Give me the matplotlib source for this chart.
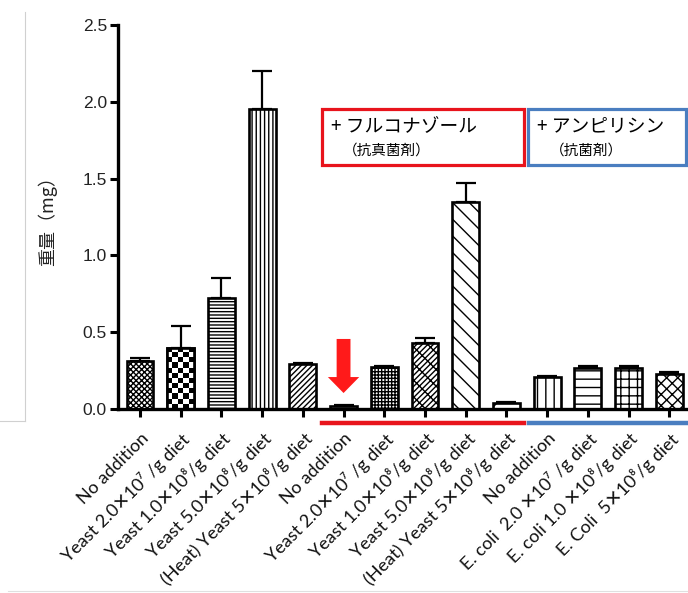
import numpy as np
import matplotlib
matplotlib.use("Agg")
import matplotlib.pyplot as plt
from matplotlib.patches import Rectangle, FancyArrow
from matplotlib.lines import Line2D

plt.rcParams['font.family'] = ['Lato', 'DejaVu Sans', 'Noto Sans CJK JP']
plt.rcParams['hatch.linewidth'] = 1.0

categories = [
    "No addition",
    "Yeast 2.0✕10⁷ /g diet",
    "Yeast 1.0✕10⁸/g diet",
    "Yeast 5.0✕10⁸/g diet",
    "(Heat) Yeast 5✕10⁸/g diet",
    "No addition",
    "Yeast 2.0✕10⁷ /g diet",
    "Yeast 1.0✕10⁸/g diet",
    "Yeast 5.0✕10⁸/g diet",
    "(Heat) Yeast 5✕10⁸/g diet",
    "No addition",
    "E. coli  2.0 ✕10⁷ /g diet",
    "E. coli 1.0 ✕10⁸/g diet",
    "E. Coli  5✕10⁸/g diet",
]
weights = [0.31, 0.40, 0.72, 1.95, 0.29, 0.02, 0.275, 0.43, 1.35, 0.04, 0.21, 0.27, 0.27, 0.23]
errors = [0.02, 0.14, 0.13, 0.25, 0.01, 0.005, 0.008, 0.03, 0.12, 0.004, 0.005, 0.01, 0.01, 0.01]
yticks = [0.0, 0.5, 1.0, 1.5, 2.0, 2.5]
ytick_labels = ["0.0", "0.5", "1.0", "1.5", "2.0", "2.5"]
hatches = ['xxxxxx', None, '-----', '||||', '//////', '---', '+++++', '//////\\\\',
           '\\\\', '/', '||', '--', '++', 'xxx']

W, H = 688, 593
fig = plt.figure(figsize=(W / 100, H / 100), dpi=100)
ax = fig.add_axes([118 / W, (H - 409) / H, 1 - 118 / W, (409 - 25) / H])

x = np.arange(len(weights))
bw = 0.66
bars = ax.bar(x, weights, width=bw, color='white', edgecolor='black', linewidth=1.9, zorder=2)
for b, h in zip(bars, hatches):
    if h:
        b.set_hatch(h)

# checkerboard fill for bar 1
b1 = bars[1]
nx, ny = 5, 12
chk = (np.add.outer(np.arange(ny), np.arange(nx)) % 2).astype(float)
im = ax.imshow(chk, cmap='gray', extent=(x[1] - bw / 2, x[1] + bw / 2, 0, weights[1]),
               aspect='auto', zorder=2.05, interpolation='nearest', vmin=0, vmax=1)
im.set_clip_path(b1)
ax.bar([x[1]], [weights[1]], width=bw, color='none', edgecolor='black', linewidth=1.9, zorder=2.1)

ax.errorbar(x, weights, yerr=[np.zeros(len(errors)), errors], fmt='none', ecolor='black',
            elinewidth=1.6, capsize=7, capthick=1.6, zorder=1.5)

ax.set_xlim(-0.54, 13.46)
ax.set_ylim(0, 2.5)
ax.set_yticks(yticks)
ax.set_yticklabels(ytick_labels, fontsize=12.5, family=['Liberation Sans'], color='#222222')
ax.set_xticks(x)
ax.set_xticklabels(categories, rotation=45, ha='right', va='top', rotation_mode='anchor',
                   fontsize=13, color='#111111')
ax.tick_params(axis='x', length=6, width=2.2, direction='out', pad=9)
ax.tick_params(axis='y', length=6, width=2.2, direction='out', pad=2)
for s in ['top', 'right']:
    ax.spines[s].set_visible(False)
for s in ['left', 'bottom']:
    ax.spines[s].set_linewidth(2.4)
ax.set_ylabel("重量（mg）", fontsize=13, family=['Noto Sans CJK JP'], labelpad=18, color='#222222')

# red arrow
ax.add_patch(FancyArrow(5, 0.456, 0, -0.352 + 0.104, width=0.34, head_width=0.77, head_length=0.104,
                        length_includes_head=False, color='#ff1a1a', zorder=3, linewidth=0))

def fx(px):
    return px / W

def fy(py):
    return 1 - py / H

red = '#e8141c'
blue = '#4a7ec0'
fig.add_artist(Rectangle((fx(322), fy(165)), fx(524) - fx(322), fy(109) - fy(165),
                         fill=False, edgecolor=red, linewidth=2.3, transform=fig.transFigure))
fig.add_artist(Rectangle((fx(528), fy(165)), fx(686) - fx(528), fy(109) - fy(165),
                         fill=False, edgecolor=blue, linewidth=2.3, transform=fig.transFigure))
fig.text(fx(331), fy(126), "+ フルコナゾール", fontsize=13.5, va='center', ha='left',
         family=['Noto Sans CJK JP'])
fig.text(fx(343), fy(151), "（抗真菌剤）", fontsize=10.5, va='center', ha='left',
         family=['Noto Sans CJK JP'])
fig.text(fx(537), fy(126), "+ アンピリシン", fontsize=13.5, va='center', ha='left',
         family=['Noto Sans CJK JP'])
fig.text(fx(550), fy(151), "（抗菌剤）", fontsize=10.5, va='center', ha='left',
         family=['Noto Sans CJK JP'])

fig.add_artist(Line2D([fx(322), fx(524)], [fy(423), fy(423)], color=red, linewidth=3.2,
                      transform=fig.transFigure))
fig.add_artist(Line2D([fx(529), fx(688)], [fy(423), fy(423)], color=blue, linewidth=3.2,
                      transform=fig.transFigure))

# faint frame lines from screenshot
fig.add_artist(Line2D([fx(25), fx(25)], [fy(12), fy(421)], color='#d0d0d0', linewidth=0.8,
                      transform=fig.transFigure))
fig.add_artist(Line2D([fx(0), fx(25)], [fy(421), fy(421)], color='#d0d0d0', linewidth=0.8,
                      transform=fig.transFigure))
fig.add_artist(Line2D([fx(8), fx(688)], [fy(591), fy(591)], color='#e0e0e0', linewidth=0.8,
                      transform=fig.transFigure))

fig.savefig("out.png", dpi=100)
